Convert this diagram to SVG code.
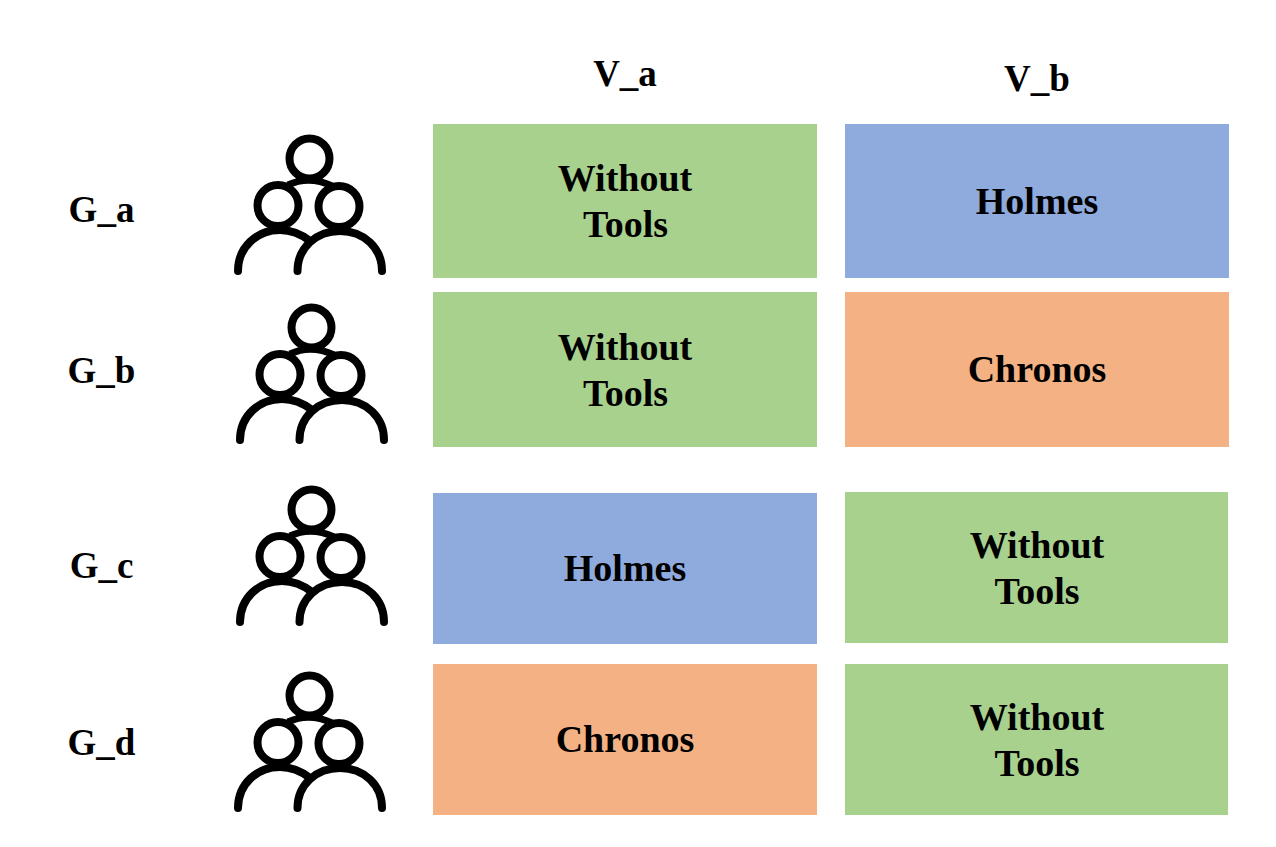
<svg xmlns="http://www.w3.org/2000/svg" width="1276" height="847" viewBox="0 0 1276 847">
<style>
text{font-family:"Liberation Serif","Times New Roman",serif;font-weight:bold;fill:#000;text-anchor:middle}
.c{font-size:38px}
.h{font-size:37px}
.g{font-size:37px}
.green{fill:#a9d18e}.blue{fill:#8faadc}.orange{fill:#f4b183}
.i{fill:none;stroke:#000;stroke-width:8;stroke-linecap:round}
.b{fill:none;stroke:#000;stroke-width:7;stroke-linecap:butt}
</style>
<defs>
<g id="people">
<circle class="i" cx="309.5" cy="158.5" r="20"/>
<circle class="i" cx="278" cy="205.5" r="20.500"/>
<circle class="i" cx="339" cy="206.500" r="20.500"/>
<path class="i" d="M238 271C238 247 257 230 280 230C291 230 301 234 310 241"/>
<path class="i" d="M297.500 271C297.500 248 316 231 340 231C364 231 382 248 382 271"/>
<path class="b" d="M288 185Q309 175 332 186"/>
</g>
</defs>
<rect width="1276" height="847" fill="#fff"/>
<g id="header-va"><text class="h" x="625" y="86">V_a</text></g>
<g id="header-vb"><text class="h" x="1037" y="91">V_b</text></g>
<g id="group-a"><text class="g" x="101.500" y="222">G_a</text><use href="#people"/></g>
<g id="group-b"><text class="g" x="101.500" y="383">G_b</text><use href="#people" x="2" y="169"/></g>
<g id="group-c"><text class="g" x="101.500" y="578">G_c</text><use href="#people" x="2" y="351"/></g>
<g id="group-d"><text class="g" x="101.500" y="755">G_d</text><use href="#people" y="537"/></g>
<g id="a-va"><rect class="green" x="433" y="124" width="384" height="154"/><text class="c" x="625" y="191">Without</text><text class="c" x="625.500" y="237">Tools</text></g>
<g id="a-vb"><rect class="blue" x="845" y="124" width="384" height="154"/><text class="c" x="1037" y="213.500">Holmes</text></g>
<g id="b-va"><rect class="green" x="433" y="292" width="384" height="155"/><text class="c" x="625" y="360">Without</text><text class="c" x="625.500" y="406">Tools</text></g>
<g id="b-vb"><rect class="orange" x="845" y="292" width="384" height="155"/><text class="c" x="1037" y="382">Chronos</text></g>
<g id="c-va"><rect class="blue" x="433" y="493" width="384" height="151"/><text class="c" x="625" y="581">Holmes</text></g>
<g id="c-vb"><rect class="green" x="845" y="492" width="383" height="151"/><text class="c" x="1037" y="558">Without</text><text class="c" x="1037" y="603.500">Tools</text></g>
<g id="d-va"><rect class="orange" x="433" y="664" width="384" height="151"/><text class="c" x="625" y="752">Chronos</text></g>
<g id="d-vb"><rect class="green" x="845" y="664" width="383" height="151"/><text class="c" x="1037" y="730">Without</text><text class="c" x="1037" y="775.500">Tools</text></g>
<g id="connectors"/>
</svg>
